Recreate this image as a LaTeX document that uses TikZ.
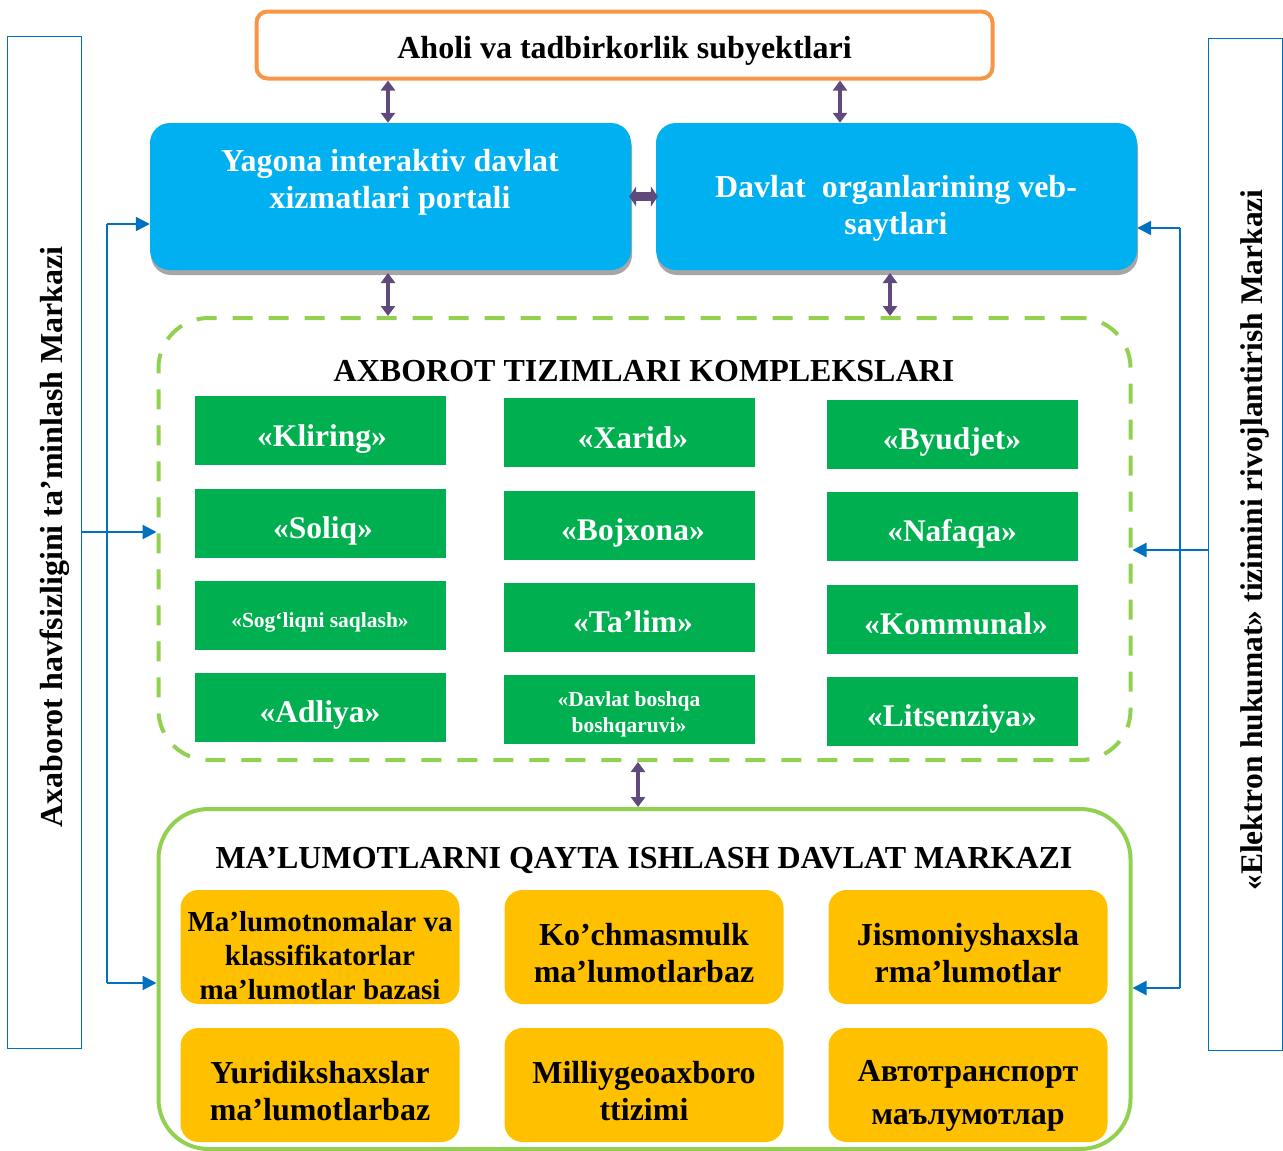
\documentclass[tikz,border=0pt]{standalone}
\usepackage{fontspec}
\setmainfont{Liberation Serif}
\usetikzlibrary{arrows.meta,shadows}
\definecolor{cblue}{HTML}{00B0F0}
\definecolor{cgreen}{HTML}{00B050}
\definecolor{lgreen}{HTML}{92D050}
\definecolor{corange}{HTML}{F79646}
\definecolor{cyellow}{HTML}{FFC000}
\definecolor{cpurple}{HTML}{5F4A7B}
\definecolor{lblue}{HTML}{0070C0}
\begin{document}
\begin{tikzpicture}[x=1pt,y=-1pt,
  every node/.style={font=\bfseries, inner sep=0pt},
  sidebox/.style={draw=lblue, line width=1.8pt, minimum width=74pt, minimum height=1012pt},
  sidetext/.style={rotate=90, font=\bfseries\fontsize{32}{36}\selectfont},
  topbox/.style={draw=corange, line width=4pt, rounded corners=11pt, fill=white, minimum width=736pt, minimum height=67pt},
  portalbox/.style={fill=cblue, rounded corners=20pt, minimum width=481pt, minimum height=147pt,
     drop shadow={shadow xshift=1pt, shadow yshift=-5pt, fill=black!35, opacity=1}},
  whitetxt/.style={text=white, align=center, font=\bfseries\fontsize{32}{37}\selectfont},
  group/.style={line width=4pt, draw=lgreen, rounded corners=50pt, minimum width=972pt, minimum height=442pt},
  gtitle/.style={font=\bfseries\fontsize{32}{36}\selectfont},
  gbox/.style={fill=cgreen, minimum width=251pt, minimum height=69pt},
  gtxt/.style={text=white, anchor=base, font=\bfseries\fontsize{31.5}{34}\selectfont},
  gsmall/.style={text=white, align=center, font=\bfseries\fontsize{21.5}{26}\selectfont},
  ybox/.style={fill=cyellow, rounded corners=18pt, minimum width=279pt, minimum height=114pt},
  ytxt/.style={align=center, font=\bfseries\fontsize{32}{37}\selectfont},
  dbl/.style={draw=cpurple, line width=4pt, {Triangle[width=14pt,length=10pt]}-{Triangle[width=14pt,length=10pt]}},
  conn/.style={draw=lblue, line width=2.2pt},
  connarr/.style={draw=lblue, line width=2.2pt, -{Triangle[width=14pt,length=14pt]}}
]
\useasboundingbox (0,0) rectangle (1283,1151);

% side boxes
\node[sidebox] (lbox) at (44.5,542.5) {};
\node[sidetext] (ltext) at (55,537) {Axaborot havfsizligini ta’minlash Markazi};
\node[sidebox] (rbox) at (1245.5,544.5) {};
\node[sidetext, font=\bfseries\fontsize{31.5}{36}\selectfont] (rtext) at (1255,540) {«Elektron hukumat» tizimini rivojlantirish Markazi};

% top
\node[topbox] (top) at (624.5,45) {};
\node[font=\bfseries\fontsize{32}{36}\selectfont] (toptxt) at (624.5,51) {Aholi va tadbirkorlik subyektlari};

% blue boxes
\node[portalbox] (portal) at (390.5,196.5) {};
\node[whitetxt] (portaltxt) at (390,182) {Yagona interaktiv davlat\\xizmatlari portali};
\node[portalbox] (web) at (896.5,196.5) {};
\node[whitetxt] (webtxt) at (896,208) {Davlat\ \ organlarining veb-\\saytlari};

% group of information systems
\node[group, dashed, dash pattern=on 20pt off 16pt] (grp) at (644.5,539) {};
\node[gtitle] (grptitle) at (644,371) {AXBOROT TIZIMLARI KOMPLEKSLARI};

\node[gbox] (g11) at (320,430) {};
\node[gbox] (g12) at (320,523) {};
\node[gbox] (g13) at (320,615) {};
\node[gbox] (g14) at (320,707) {};
\node[gbox] (g21) at (629,432) {};
\node[gbox] (g22) at (629,525) {};
\node[gbox] (g23) at (629,617) {};
\node[gbox] (g24) at (629,709) {};
\node[gbox] (g31) at (952,434) {};
\node[gbox] (g32) at (952,526) {};
\node[gbox] (g33) at (952,619) {};
\node[gbox] (g34) at (952,711) {};

\node[gtxt] (t11) at (322,446) {«Kliring»};
\node[gtxt] (t12) at (323,538) {«Soliq»};
\node[gtxt, gsmall, anchor=base] (t13) at (320,627) {«Sog‘liqni saqlash»};
\node[gtxt] (t14) at (320,722) {«Adliya»};
\node[gtxt] (t21) at (633,448) {«Xarid»};
\node[gtxt] (t22) at (633,540) {«Bojxona»};
\node[gtxt] (t23) at (633,632) {«Ta’lim»};
\node[gsmall] (t24) at (629,714) {«Davlat boshqa\\boshqaruvi»};
\node[gtxt] (t31) at (952,449) {«Byudjet»};
\node[gtxt] (t32) at (952,541) {«Nafaqa»};
\node[gtxt] (t33) at (956,634) {«Kommunal»};
\node[gtxt] (t34) at (952,726) {«Litsenziya»};

% data center
\node[group, minimum height=340pt] (dc) at (644.5,979) {};
\node[gtitle] (dctitle) at (644,860) {MA’LUMOTLARNI QAYTA ISHLASH DAVLAT MARKAZI};

\node[ybox] (y11) at (320,947) {};
\node[ybox] (y12) at (644,947) {};
\node[ybox] (y13) at (968,947) {};
\node[ybox] (y21) at (320,1085) {};
\node[ybox] (y22) at (644,1085) {};
\node[ybox] (y23) at (968,1085) {};

\node[ytxt, font=\bfseries\fontsize{29}{34}\selectfont] (x11) at (320,956) {Ma’lumotnomalar va\\klassifikatorlar\\ma’lumotlar bazasi};
\node[ytxt] (x12) at (644,953) {Ko’chmasmulk\\ma’lumotlarbaz};
\node[ytxt] (x13) at (968,953) {Jismoniyshaxsla\\rma’lumotlar};
\node[ytxt] (x21) at (320,1091) {Yuridikshaxslar\\ma’lumotlarbaz};
\node[ytxt] (x22) at (644,1091) {Milliygeoaxboro\\ttizimi};
\node[ytxt, font=\bfseries\fontsize{32}{43}\selectfont] (x23) at (968,1096) {Автотранспорт\\маълумотлар};

% purple double arrows
\draw[dbl] (388,0 |- top.south) -- (388,0 |- portal.north);
\draw[dbl] (840,0 |- top.south) -- (840,0 |- web.north);
\draw[draw=cpurple, line width=9pt, shorten <=-2pt, shorten >=-2pt, {Triangle[width=20pt,length=7pt]}-{Triangle[width=20pt,length=7pt]}] (portal.east) -- (web.west);
\draw[dbl] (388,273) -- (388,0 |- grp.north);
\draw[dbl] (890,273) -- (890,0 |- grp.north);
\draw[dbl] (638,0 |- grp.south) -- (638,0 |- dc.north);

% left connectors
\coordinate (ltop) at (107,224);
\coordinate (lbot) at (107,983);
\coordinate (lmid) at (lbox.east |- 0,532);
\draw[conn] (ltop) -- (lbot);
\draw[connarr] (ltop) -- (portal.west |- ltop);
\draw[connarr] (lbot) -- (grp.west |- lbot);
\draw[connarr] (lmid) -- (grp.west |- lmid);

% right connectors
\coordinate (rtop) at (1180,228);
\coordinate (rbot) at (1180,988);
\coordinate (rmid) at (rbox.west |- 0,550);
\draw[conn] (rtop) -- (rbot);
\draw[connarr] (rtop) -- (web.east |- rtop);
\draw[connarr] (rbot) -- (grp.east |- rbot);
\draw[connarr] (rmid) -- (grp.east |- rmid);
\end{tikzpicture}
\end{document}
